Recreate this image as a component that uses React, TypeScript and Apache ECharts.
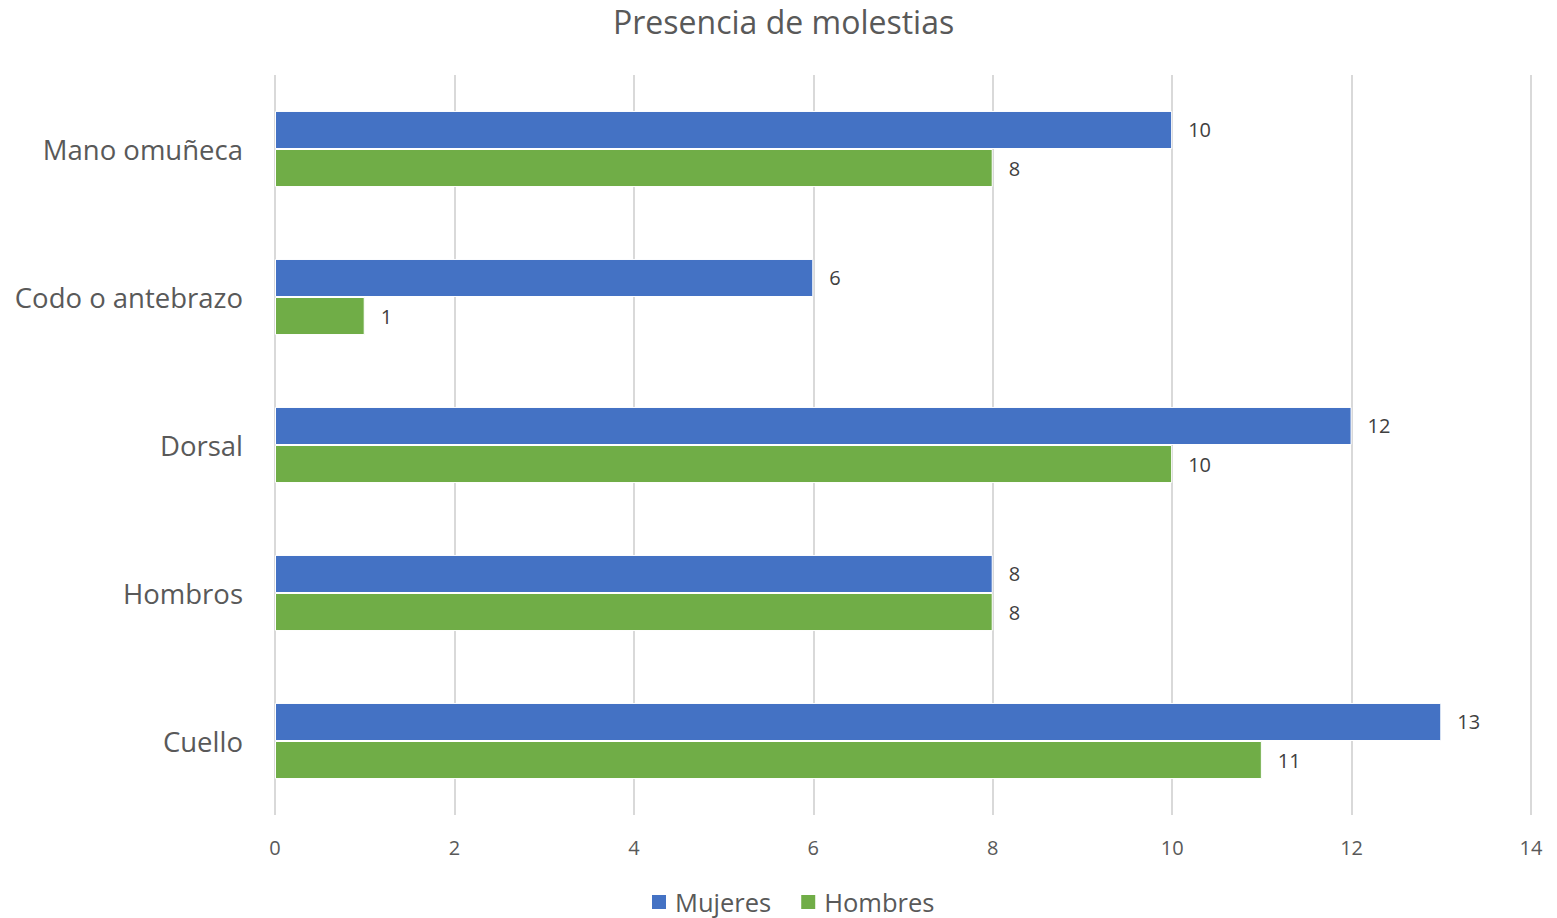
import React, { useEffect, useRef } from "react";
import * as echarts from "echarts";

const categories = ["Cuello", "Hombros", "Dorsal", "Codo o antebrazo", "Mano omuñeca"];
const mujeres = [13, 8, 12, 6, 10];
const hombres = [11, 8, 10, 1, 8];
const xTicks = [0, 2, 4, 6, 8, 10, 12, 14];

const FONT = "'Open Sans', 'Noto Sans', sans-serif";
const TEXT = "#595959";

export default function App() {
  const ref = useRef<HTMLDivElement>(null);

  useEffect(() => {
    if (!ref.current) return;
    const chart = echarts.init(ref.current, undefined, { renderer: "svg" });
    const label = {
      show: true,
      position: "right" as const,
      distance: 16,
      color: "#404040",
      fontSize: 20,
      fontFamily: FONT,
    };
    chart.setOption({
      animation: false,
      textStyle: { fontFamily: FONT },
      title: {
        text: "Presencia de molestias",
        left: 613,
        top: 0,
        padding: [5, 0],
        textStyle: { color: TEXT, fontSize: 32, fontWeight: "normal", fontFamily: FONT },
      },
      legend: {
        data: ["Mujeres", "Hombres"],
        top: 885,
        left: 650,
        padding: 0,
        itemWidth: 16,
        itemHeight: 16,
        itemGap: 28,
        icon: "rect",
        textStyle: { color: TEXT, fontSize: 25.5, lineHeight: 34, padding: [0, 0, 0, 3], fontFamily: FONT },
      },
      grid: { left: 275, right: 26, top: 75, bottom: 103, containLabel: false },
      xAxis: {
        type: "value",
        min: xTicks[0],
        max: xTicks[xTicks.length - 1],
        interval: 2,
        axisLine: { show: false },
        axisTick: { show: false },
        axisLabel: { color: TEXT, fontSize: 20, margin: 22, fontFamily: FONT },
        splitLine: { lineStyle: { color: "#d9d9d9", width: 2 } },
      },
      yAxis: {
        type: "category",
        data: categories,
        axisLine: { show: false },
        axisTick: { show: false },
        axisLabel: { color: TEXT, fontSize: 27.5, margin: 32, fontFamily: FONT },
      },
      series: [
        {
          name: "Mujeres",
          type: "bar",
          data: mujeres,
          barGap: "0%",
          barCategoryGap: "48.6%",
          itemStyle: { color: "#4472c4", borderColor: "#ffffff", borderWidth: 1 },
          label,
        },
        {
          name: "Hombres",
          type: "bar",
          data: hombres,
          barGap: "0%",
          barCategoryGap: "48.6%",
          itemStyle: { color: "#70ad47", borderColor: "#ffffff", borderWidth: 1 },
          label,
        },
      ],
    });
    return () => chart.dispose();
  }, []);

  return (
    <div
      ref={ref}
      style={{ position: "absolute", left: 0, top: 0, width: 1557, height: 918 }}
    />
  );
}
